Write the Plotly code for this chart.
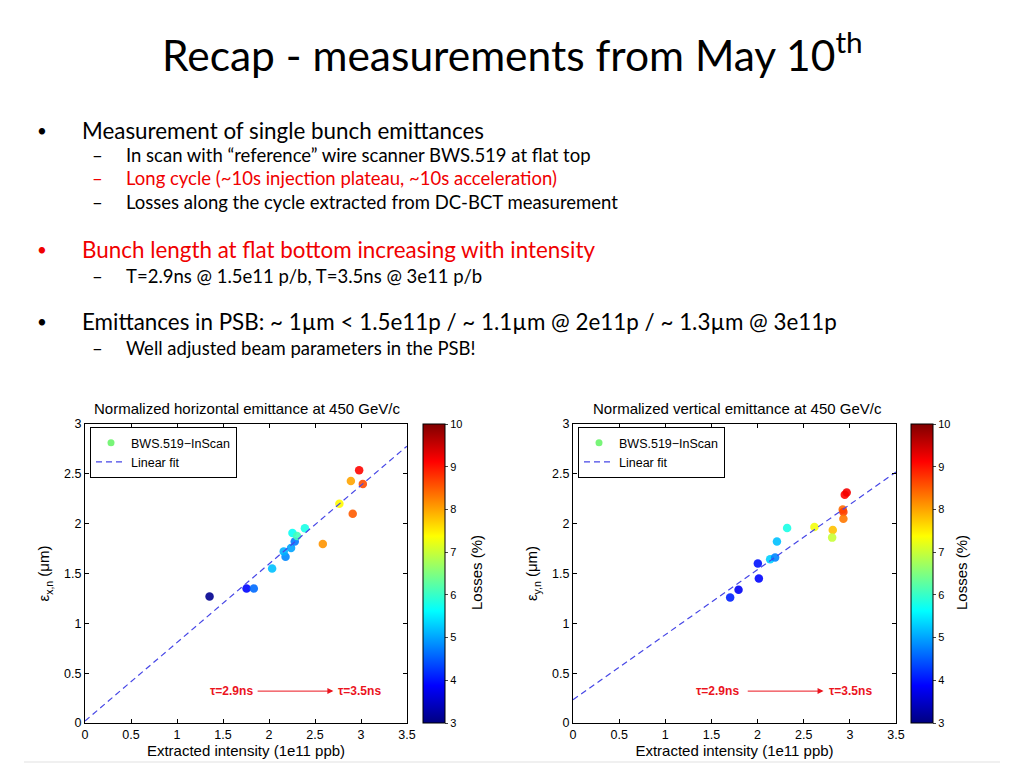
import plotly.graph_objects as go

W, H = 1024, 768

# ---------------- data ----------------
h_intensity = [1.354, 1.756, 1.835, 2.034, 2.18, 2.16, 2.24, 2.28, 2.255, 2.305, 2.39, 2.585, 2.765, 2.91, 2.89, 2.98, 3.02]
h_emittance = [1.27, 1.35, 1.35, 1.55, 1.667, 1.72, 1.757, 1.82, 1.907, 1.877, 1.953, 1.797, 2.2, 2.1, 2.427, 2.537, 2.397]
h_losses = [3.1, 3.9, 4.6, 5.2, 4.8, 5.1, 5.0, 4.7, 5.7, 6.1, 5.8, 8.1, 7.4, 8.5, 8.0, 9.1, 8.6]

v_intensity = [1.703, 1.794, 2.003, 2.014, 2.136, 2.19, 2.21, 2.32, 2.616, 2.815, 2.808, 2.923, 2.93, 2.93, 2.945, 2.966]
v_emittance = [1.26, 1.337, 1.6, 1.45, 1.643, 1.66, 1.82, 1.957, 1.967, 1.937, 1.86, 2.143, 2.117, 2.05, 2.29, 2.313]
v_losses = [4.1, 3.8, 4.0, 3.9, 5.3, 4.8, 5.2, 5.8, 7.3, 7.8, 7.0, 8.4, 8.7, 8.3, 9.1, 9.2]

h_fit_slope, h_fit_intercept = 0.788, 0.02
v_fit_slope, v_fit_intercept = 0.653, 0.233
fit_x = [0.0, 3.5]

x_ticks = [0, 0.5, 1, 1.5, 2, 2.5, 3, 3.5]
x_ticklabels = ["0", "0.5", "1", "1.5", "2", "2.5", "3", "3.5"]
y_ticks = [0, 0.5, 1, 1.5, 2, 2.5, 3]
y_ticklabels = ["0", "0.5", "1", "1.5", "2", "2.5", "3"]
loss_ticks = [3, 4, 5, 6, 7, 8, 9, 10]

tau_start_label = "τ=2.9ns"
tau_end_label = "τ=3.5ns"

# ---------------- helpers ----------------
def px(x):
    return x / W

def py(y):
    return 1 - y / H

jet = [
    [0.0, "rgb(0,0,128)"],
    [0.125, "rgb(0,0,255)"],
    [0.375, "rgb(0,255,255)"],
    [0.625, "rgb(255,255,0)"],
    [0.875, "rgb(255,0,0)"],
    [1.0, "rgb(128,0,0)"],
]

PF = "Liberation Sans, Arial, sans-serif"
SF = "Lato, Open Sans, sans-serif"
RED = "rgb(235,20,30)"

fig = go.Figure()

panels = [
    dict(xa="x", ya="y", xi=h_intensity, yi=h_emittance, c=h_losses,
         slope=h_fit_slope, icpt=h_fit_intercept, legend="legend",
         cbx=423, title="Normalized horizontal emittance at 450 GeV/c",
         ylab="ε<sub>x,n</sub> (μm)", cbtitle_x=476, title_cx=247,
         tau1=1.34, tau2=2.73, arr0=1.86, arr1=2.70),
    dict(xa="x2", ya="y2", xi=v_intensity, yi=v_emittance, c=v_losses,
         slope=v_fit_slope, icpt=v_fit_intercept, legend="legend2",
         cbx=911, title="Normalized vertical emittance at 450 GeV/c",
         ylab="ε<sub>y,n</sub> (μm)", cbtitle_x=961, title_cx=737,
         tau1=1.31, tau2=2.75, arr0=1.877, arr1=2.715),
]

for p in panels:
    fig.add_trace(go.Scatter(
        x=p["xi"], y=p["yi"], xaxis=p["xa"], yaxis=p["ya"], mode="markers",
        showlegend=False,
        marker=dict(size=8.5, color=p["c"], colorscale=jet, cmin=3, cmax=10, opacity=0.9,
                    line=dict(width=0),
                    colorbar=dict(x=px(p["cbx"]), xanchor="left", y=py(723), yanchor="bottom",
                                  len=299 / H, lenmode="fraction", thickness=22,
                                  thicknessmode="pixels", outlinewidth=1, outlinecolor="black",
                                  tickvals=loss_ticks, ticks="outside", ticklen=3,
                                  tickfont=dict(family=PF, size=11, color="black"),
                                  xpad=0, ypad=0)),
    ))
    # legend marker entry
    fig.add_trace(go.Scatter(
        x=[None], y=[None], xaxis=p["xa"], yaxis=p["ya"], mode="markers",
        name="BWS.519−InScan", legend=p["legend"],
        marker=dict(size=7, color="rgb(120,245,120)"),
    ))
    fit_y = [p["slope"] * v + p["icpt"] for v in fit_x]
    fig.add_trace(go.Scatter(
        x=fit_x, y=fit_y, xaxis=p["xa"], yaxis=p["ya"], mode="lines",
        name="Linear fit", legend=p["legend"],
        line=dict(color="rgb(70,70,230)", width=1.2, dash="6px,4px"),
    ))

axis_common = dict(showgrid=False, zeroline=False, showline=True, linecolor="black",
                   linewidth=1, mirror="ticks", ticks="inside", ticklen=4, automargin=False,
                   tickcolor="black", tickfont=dict(family=PF, size=12.5, color="black"))

def xaxis_def(domain, anchor):
    return dict(domain=domain, range=[0, 3.5], tickvals=x_ticks, ticktext=x_ticklabels,
                anchor=anchor,
                title=dict(text="Extracted intensity (1e11 ppb)", standoff=1,
                           font=dict(family=PF, size=15, color="black")), **axis_common)

def yaxis_def(anchor, label):
    return dict(domain=[py(723), py(424)], range=[0, 3], tickvals=y_ticks, ticktext=y_ticklabels,
                anchor=anchor,
                title=dict(text=label, standoff=10,
                           font=dict(family=PF, size=15, color="black")), **axis_common)

def legend_def(x):
    return dict(x=px(x), y=py(427), xanchor="left", yanchor="top",
                bordercolor="black", borderwidth=1, bgcolor="white",
                font=dict(family=PF, size=12.5, color="black"), tracegroupgap=0,
                itemwidth=30)

fig.update_layout(
    template="none",
    width=W, height=H, margin=dict(l=0, r=0, t=0, b=0, autoexpand=False),
    paper_bgcolor="white", plot_bgcolor="white",
    xaxis=xaxis_def([px(85), px(407)], "y"),
    yaxis=yaxis_def("x", panels[0]["ylab"]),
    xaxis2=xaxis_def([px(573), px(896)], "y2"),
    yaxis2=yaxis_def("x2", panels[1]["ylab"]),
    legend=legend_def(90),
    legend2=legend_def(578),
)

ann = []
for p in panels:
    xr, yr = p["xa"], p["ya"]
    ann.append(dict(text=p["title"], x=px(p["title_cx"]), y=py(408), xref="paper", yref="paper",
                    showarrow=False, xanchor="center", yanchor="middle",
                    font=dict(family=PF, size=15, color="black")))
    ann.append(dict(text="Losses (%)", x=px(p["cbtitle_x"]), y=py(573), xref="paper", yref="paper",
                    showarrow=False, textangle=-90, xanchor="center", yanchor="middle",
                    font=dict(family=PF, size=15, color="black")))
    ann.append(dict(text="<b>%s</b>" % tau_start_label, x=p["tau1"], y=0.32,
                    xref=xr, yref=yr, showarrow=False, xanchor="left", yanchor="middle",
                    font=dict(family=PF, size=12, color=RED)))
    ann.append(dict(text="<b>%s</b>" % tau_end_label, x=p["tau2"], y=0.32,
                    xref=xr, yref=yr, showarrow=False, xanchor="left", yanchor="middle",
                    font=dict(family=PF, size=12, color=RED)))
    ann.append(dict(text="", x=p["arr1"], y=0.32, ax=p["arr0"], ay=0.32,
                    xref=xr, yref=yr, axref=xr, ayref=yr, showarrow=True,
                    arrowhead=2, arrowsize=1.2, arrowwidth=1, arrowcolor=RED))

# slide text
ann.append(dict(text="Recap - measurements from May 10<sup>th</sup>", x=0.5, y=py(52),
                xref="paper", yref="paper", showarrow=False, xanchor="center", yanchor="middle",
                font=dict(family=SF, size=42.5, color="black")))

BODY, SUB = 22.4, 18.5
lines = [
    ("•", 42, "Measurement of single bunch emittances", 80, 130, BODY, "black"),
    ("–", 97, "In scan with “reference” wire scanner BWS.519 at flat top", 124, 155, SUB, "black"),
    ("–", 97, "Long cycle (~10s injection plateau, ~10s acceleration)", 124, 178, SUB, "rgb(240,0,0)"),
    ("–", 97, "Losses along the cycle extracted from DC-BCT measurement", 124, 202, SUB, "black"),
    ("•", 42, "Bunch length at flat bottom increasing with intensity", 80, 249, BODY, "rgb(240,0,0)"),
    ("–", 97, "T=2.9ns @ 1.5e11 p/b, T=3.5ns @ 3e11 p/b", 124, 276, SUB, "black"),
    ("•", 42, "Emittances in PSB: ~ 1µm < 1.5e11p / ~ 1.1µm @ 2e11p / ~ 1.3µm @ 3e11p", 80, 322, BODY, "black"),
    ("–", 97, "Well adjusted beam parameters in the PSB!", 124, 348, SUB, "black"),
]
for bullet, bx, txt, tx, ty, fs, col in lines:
    bfs = 17 if bullet == "•" else fs
    ann.append(dict(text=bullet, x=px(bx), y=py(ty), xref="paper", yref="paper", showarrow=False,
                    xanchor="center", yanchor="middle", font=dict(family=SF, size=bfs, color=col)))
    ann.append(dict(text=txt.replace("<", "&lt;"), x=px(tx), y=py(ty), xref="paper", yref="paper",
                    showarrow=False, xanchor="left", yanchor="middle",
                    font=dict(family=SF, size=fs, color=col)))

fig.update_layout(annotations=ann)
fig.add_shape(type="line", xref="paper", yref="paper", x0=px(24), x1=px(1000), y0=py(762), y1=py(762),
              line=dict(color="rgb(225,225,225)", width=1))

fig.write_html("out.html", post_script="document.body.style.margin='0px';",
               config={"displayModeBar": False})
